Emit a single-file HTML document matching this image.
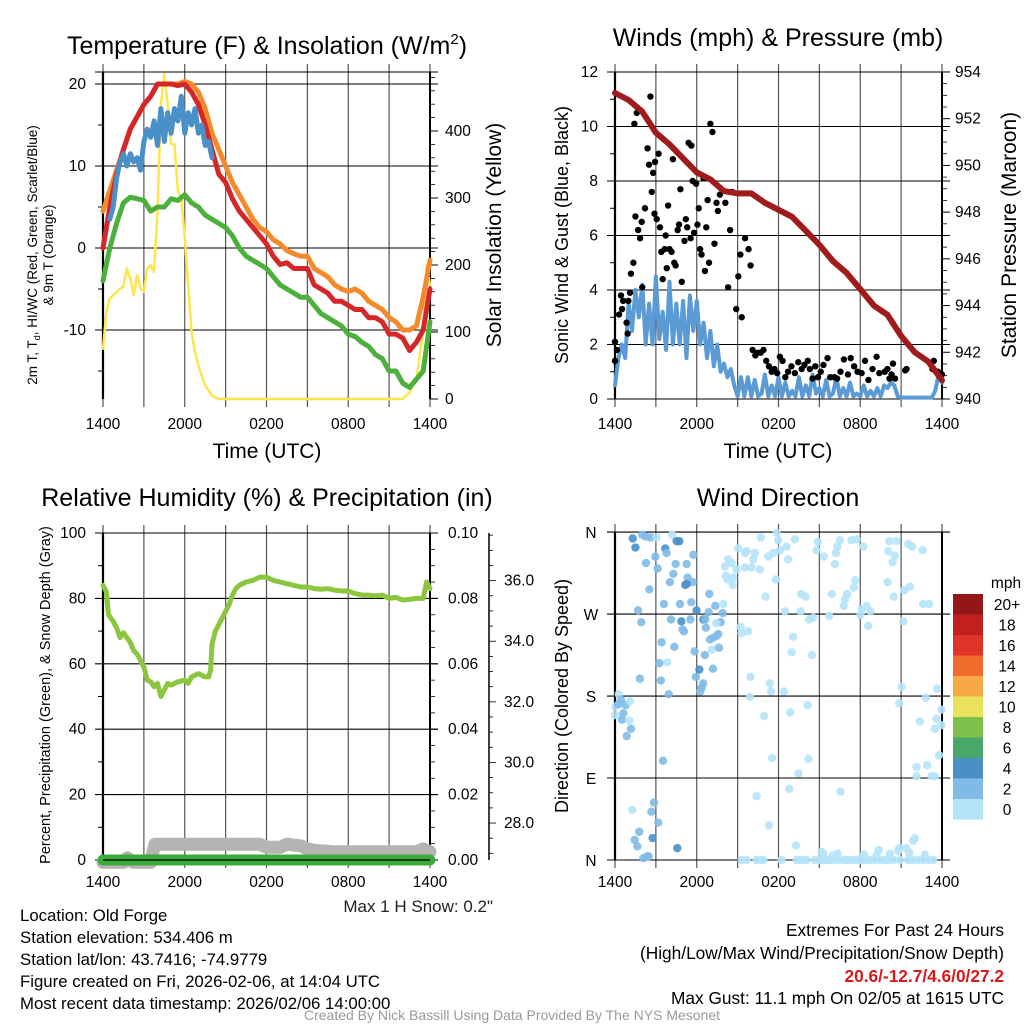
<!DOCTYPE html>
<html><head><meta charset="utf-8"><style>
html,body{margin:0;padding:0;background:#fff;}
svg{display:block;font-family:"Liberation Sans",Arial,sans-serif;}
</style></head><body>
<svg id="s" width="1024" height="1024" viewBox="0 0 1024 1024" xmlns="http://www.w3.org/2000/svg">
<rect width="1024" height="1024" fill="#fff"/>
<g font-size="25" text-anchor="middle" fill="#000">
<text x="267" y="54">Temperature (F) &amp; Insolation (W/m<tspan font-size="15" dy="-10">2</tspan><tspan dy="10">)</tspan></text>
<text x="778" y="46">Winds (mph) &amp; Pressure (mb)</text>
<text x="267" y="506">Relative Humidity (%) &amp; Precipitation (in)</text>
<text x="778" y="506">Wind Direction</text>
</g>
<g font-size="21" text-anchor="middle">
<text x="267" y="458">Time (UTC)</text>
<text x="778" y="458">Time (UTC)</text>
<text transform="translate(501,235) rotate(-90)">Solar Insolation (Yellow)</text>
<text transform="translate(1016,235) rotate(-90)">Station Pressure (Maroon)</text>
</g>
<g font-size="13.5" text-anchor="middle">
<text transform="translate(37,255) rotate(-90)">2m T, T<tspan font-size="9" dy="3">d</tspan><tspan dy="-3">, HI/WC (Red, Green, Scarlet/Blue)</tspan></text>
<text transform="translate(53,255) rotate(-90)">&amp; 9m T (Orange)</text>
<text transform="translate(50,695) rotate(-90)" font-size="14.5">Percent, Precipitation (Green), &amp; Snow Depth (Gray)</text>
</g>
<g font-size="18" text-anchor="middle">
<text transform="translate(568,235) rotate(-90)">Sonic Wind &amp; Gust (Blue, Black)</text>
<text transform="translate(568,696) rotate(-90)">Direction (Colored By Speed)</text>
</g>
<g font-size="16.8">
<text x="20" y="921">Location: Old Forge</text>
<text x="20" y="943">Station elevation: 534.406 m</text>
<text x="20" y="965">Station lat/lon: 43.7416; -74.9779</text>
<text x="20" y="987">Figure created on Fri, 2026-02-06, at 14:04 UTC</text>
<text x="20" y="1009">Most recent data timestamp: 2026/02/06 14:00:00</text>
<text x="493" y="912" text-anchor="end" fill="#222" font-size="17">Max 1 H Snow: 0.2"</text>
<g text-anchor="end" font-size="17.3">
<text x="1004" y="936">Extremes For Past 24 Hours</text>
<text x="1004" y="959">(High/Low/Max Wind/Precipitation/Snow Depth)</text>
<text x="1004" y="982" fill="#d7191c" font-weight="bold">20.6/-12.7/4.6/0/27.2</text>
<text x="1004" y="1004">Max Gust: 11.1 mph On 02/05 at 1615 UTC</text>
</g>
</g>
<text x="512" y="1020" font-size="14" fill="#999" text-anchor="middle">Created By Nick Bassill Using Data Provided By The NYS Mesonet</text>
<g id="layer"></g>
</svg>
<script>
// ---------- data ----------
const xTickLabels = ["1400","2000","0200","0800","1400"];
const tempRed = [0,5,9,12,14.5,16,17.5,18.5,20,20,20,19.8,20,19,17.5,15,12,9,8,6,4.5,3.5,2.5,1.5,0.5,-1,-2,-1.8,-2.5,-2.5,-2.5,-4.5,-5,-5.5,-6.5,-6.5,-7,-7.5,-7.5,-8.5,-8.5,-9,-10.5,-10.5,-11,-12.5,-11.5,-10,-5];
const tempOrange = [4.5,7,9.5,12,14.5,16,17.5,18.5,20,20,20,20,20.3,20,19,17,14,12,10,8,6.5,5,3.5,2.5,2,1,0.5,-0.3,-0.7,-1,-1,-2.5,-3,-3.5,-4.5,-5,-5.3,-5,-5.5,-6.5,-7,-7.5,-8.5,-9,-10,-10,-9.5,-6,-1.5];
const dewGreen = [-4,0,3,5.5,6.2,6,5.8,4.5,5,5,6,5.8,6.5,5.5,5,4,3.5,3,2.5,1.5,0,-1,-1.5,-2,-2.5,-3.5,-4.5,-5,-5.5,-6,-6,-7,-8,-8.5,-9,-9.5,-10.5,-10.8,-11.5,-12,-13,-13.5,-15,-15,-16.5,-17,-16,-15,-9];
const wcStart = 0.5;
const windChill = [3.5,5,8.5,10.5,11.5,10,11.5,10.5,11,9.5,13,14.5,13.5,15.5,12.5,17,13,16.5,14,17,15.5,18.5,14,16.5,15,17,14,15,12.5,13,11];
const solarHours = [0,0.25,0.5,1,1.5,1.75,2,2.25,2.5,2.75,3,3.25,3.5,3.75,4,4.25,4.5,4.75,5,5.25,5.5,5.75,6,6.25,6.5,6.75,7,7.5,8,8.5,22,22.5,23,23.5,23.75,24];
const solarValues = [75,130,150,160,168,195,180,155,185,165,160,195,200,190,280,440,485,440,380,380,310,300,240,170,100,70,50,20,5,0,0,10,30,100,200,170];
const pressure = [953.1,952.8,952.3,951.4,950.9,950.3,949.7,949.4,948.9,948.8,948.8,948.4,948.1,947.8,947.2,946.6,945.9,945.4,944.7,944.0,943.6,942.7,942.0,941.6,940.8];
const windSpeed = [0.5,1.5,2,1.5,3.5,2.5,4,3,4.2,2,3.5,2,4.5,2.2,3.2,1.8,4.3,2,3.5,2,3.6,1.5,3.8,2.5,3.6,2,2.8,1.5,2.5,1.2,2,1,1.3,0.8,1.1,0.5,0.1,
0.8,0.1,0.8,0.1,0.7,0.1,0.2,0.9,0.1,0.5,0.1,0.8,0.1,0.6,0.1,0.3,0.1,0.8,0.1,0.5,0.1,0.9,0.2,0.4,0.1,0.7,0.1,0.2,0.8,0.1,0.4,0.1,0.6,0.1,0.2,0.1,0.5,0.1,0.3,0.1,0.4,0.1,0.5,0.4,0.6,0.5,0.1,
0.05,0.05,0.05,0.05,0.05,0.05,0.05,0.05,0.05,0.05,0.3,0.9,0.6];
const gustHours = [0,0,0.15,0.3,0.44,0.52,0.6,0.85,0.93,0.98,1.1,1.17,1.35,1.42,1.5,1.6,1.7,1.84,1.96,2.0,2.2,2.39,2.5,2.6,2.7,2.8,2.9,2.94,3.06,3.2,3.3,3.4,3.5,3.65,3.72,3.8,3.9,4.0,4.15,4.25,4.35,4.45,4.6,4.7,4.8,4.9,5.1,5.2,5.3,5.4,5.55,5.6,5.7,5.8,5.95,6.05,6.15,6.25,6.35,6.5,6.6,6.7,6.8,6.9,7.0,7.15,7.3,7.45,7.55,7.7,8.1,8.3,8.45,8.6,8.9,9.05,9.2,9.3,9.55,9.8,9.95,10.1,10.3,10.5,10.7,10.9,11.1,11.3,11.5,11.7,11.9,12.1,12.3,12.5,12.7,12.95,13.2,13.45,13.7,13.9,14.15,14.3,14.5,14.7,14.9,15.1,15.3,15.6,15.8,16.1,16.3,16.55,16.8,17.1,17.3,17.55,17.8,18.1,18.35,18.6,18.9,19.2,19.4,19.8,20.0,20.15,20.3,20.4,20.55,21.3,21.4,23.3,23.4,23.7,24];
const gustValues = [2.1,1.4,1.8,3.1,3.8,3.3,3.6,2.8,2.4,3.6,3.9,4.6,5,10.1,6.7,10.5,6.2,5.9,6.5,4.1,7.0,9.2,8.6,11.1,7.6,8.3,6.8,8.7,6.6,9.0,6.3,5.4,4.4,5.5,6.0,4.8,7.1,5.5,5.4,8.8,5.0,4.9,6.2,6.4,7.7,4.3,5.8,6.6,6.3,9.4,5.9,9.3,8.0,6.1,7.9,6.4,7.0,5.5,5.3,8.1,4.7,6.3,7.3,5.0,10.1,9.8,5.7,7.2,6.9,7.5,7.2,4.1,6.2,7.6,3.3,4.5,5.3,3.0,5.9,5.5,4.9,1.8,1.6,1.7,1.7,1.8,1.4,1.2,1.0,1.1,0.95,1.55,1.4,0.8,1.0,1.2,0.95,1.35,1.1,1.25,1.4,1.1,0.75,1.2,0.8,1.0,1.25,1.5,0.8,0.8,0.75,1.0,1.45,0.9,1.5,1.2,1.0,0.95,1.4,0.7,1.1,1.55,0.95,1.0,1.1,0.75,0.9,1.3,0.75,1.05,1.1,1.1,1.4,1.0,0.9,1.1,0.95,1.25,1.35,2.1,1.5,1.3,0.25,1.0,0.45,1.65,1.3,1.65];
const rhHours = [0,0.25,0.4,0.75,1,1.25,1.5,1.75,2,2.25,2.5,2.75,3,3.25,3.5,3.75,4,4.25,4.5,4.75,5,5.5,6,6.25,6.5,7,7.5,7.75,7.9,8,8.25,8.75,9.25,9.5,9.75,10,10.5,11,11.5,12,12.5,13,13.5,14,14.5,15,15.5,16,16.5,17,17.5,18,18.5,19,19.5,20,20.5,21,21.5,22,22.5,23,23.5,23.75,24];
const rhValues = [84,82,75,73,71,68,69.5,68,66.5,64,63,61,59,55,54.5,53,54,50,52,54,53.5,54.5,55,54,56,57,56,56,58,66,70,74,78,81,83,84,85,85.5,86.5,86.5,85.5,85,84.5,84,83.5,83.5,83,82.8,83,82.5,82.3,82.2,81.5,81,81,80.8,81,80,80.3,79.5,79.7,80,80,85,83];
const precipValues = [0,0,0,0,0,0,0,0,0,0,0,0,0,0,0,0,0,0,0,0,0,0,0,0,0];
const snowHours = [0,1.5,1.8,2.2,3.5,3.8,11.5,12,13,13.5,14.5,15,15.5,17,23,23.5,24];
const snowValues = [26.7,26.7,26.85,26.7,26.7,27.3,27.3,27.2,27.2,27.3,27.25,27.15,27.1,27.05,27.05,27.15,27.05];
const dirHours = [1.3,1.5,2.0,2.25,2.62,3.06,2.27,2.52,2.96,3.13,3.69,3.79,4.2,4.52,4.72,4.45,5.26,4.28,4.03,5.33,5.75,5.7,5.16,5.26,3.59,4.77,5.6,6.92,5.99,1.69,1.93,4.11,4.87,5.53,6.48,6.63,6.87,7.36,7.9,7.95,7.75,7.43,6.67,4.96,5.06,6.97,7.21,7.46,7.58,3.42,4.35,7.11,7.63,5.84,6.6,3.25,3.84,6.19,7.19,5.94,3.37,1.83,6.48,6.36,6.26,3.94,
0.27,0.44,0.02,0.24,0.78,1.1,0.61,0,0.51,1.05,1.17,0.86,3.52,1.27,2.86,2.67,3.18,1.78,1.44,1.64,2.76,4.57,2.08,2.37,2.47,
10.71,11.86,11.98,13.2,11.25,11.61,12.1,12.59,12.71,11.81,11.05,9.05,9.54,9.66,10.27,10.15,10.02,10.64,9.54,8.31,8.07,8.14,8.26,8.68,8.63,8.56,8.92,9.29,9.22,9.78,9.95,9.9,10.95,11.37,11.44,12.4,12.86,13.06,12.96,14.47,14.25,14.55,13.67,13.99,13.62,12.47,14.13,11.54,14.2,13.47,12.79,10.39,11.3,13.28,14.89,14.79,15.33,16.14,16.21,16.33,16.5,17.36,17.73,18.22,17.63,17.53,17.04,16.87,16.8,15.92,15.72,18.02,18.09,18.46,18.75,18.58,16.55,20,20.12,20.05,20.66,20.54,20.37,20.46,21.22,21.64,21.15,21.52,21.81,22.57,22.62,23.06,21.03,20.86,22.81,22.37,23.64,23.96,23.47,23.59,23.79,22.13,22.91,21.88,22,21.39,21.59,22.13,23.23,23.47,23.96,
9.29,9.66,10.39,10.76,10.88,12.22,13.33,13.57,13.81,14.06,14.67,15.04,15.28,15.53,15.77,16.01,16.38,16.75,16.99,17.24,17.48,17.73,18.09,18.34,18.7,19.07,19.44,19.8,20.05,20.42,20.9,21.52,21.88,22.25,22.62,22.98,23.35,
15.16,15.28,15.97,16.33,18.26,19.36,19.19,20.17,20.78,20.86,22.74];
const dirDegrees = [353,343,357,355,354,354,326,297,333,320,342,337,357,350,350,325,325,314,305,310,335,305,302,303,281,281,283,292,274,274,261,264,262,264,264,264,272,279,271,281,261,260,255,253,251,242,244,246,248,239,234,231,233,229,225,216,217,209,210,201,197,199,194,189,185,182,
182,176,168,171,170,174,161,159,154,153,144,136,109,55,63,53,41,31,22,15,24,13,2,4,4,
354,359,351,352,333,337,340,344,330,308,289,342,337,339,337,330,321,319,321,330,322,312,308,310,302,326,319,249,256,251,201,179,158,194,185,185,162,245,228,225,264,266,292,289,273,273,170,112,111,95,78,70,38,16,349,340,333,325,337,344,351,351,352,344,307,299,292,286,279,292,268,269,275,279,273,257,75,305,350,339,350,334,327,289,296,300,262,347,344,340,281,281,190,172,178,152,188,165,144,155,115,102,104,21,24,13,8,92,92,92,148,
0,0,0,0,0,0,0,0,0,0,0,0,0,0,0,0,0,0,0,0,0,0,0,0,0,0,0,0,0,0,0,0,0,0,0,0,0,
9,7,5,7,6,11,5,7,10,13,6];
const dirSpeeds = [4.5,4.5,3,3,3,1.5,3,3,3,3,4.5,3,1.5,4.5,4.5,3,3,3,3,3,3,3,4.5,4.5,3,3,3,3,4.5,3,3,3,4.5,3,4.5,3,3,3,3,1.5,3,1.5,3,3,3,3,3,3,3,3,3,1.5,3,3,3,3,1.5,4.5,3,3,3,3,3,3,3,3,
1.5,3,1.5,3,3,1.5,3,1.5,3,1.5,3,3,3,1.5,3,3,3,3,3,3,4.5,4.5,3,3,3];
const legendLabels = ["20+","18","16","14","12","10","8","6","4","2","0"];
const legendColors = ["#931717","#c1201f","#df3327","#f06a2c","#f7a945","#e9e25a","#7fc04a","#4aa76a","#4a90c6","#7fbbe5","#b5e3f8"];

// ---------- helpers ----------
const NS="http://www.w3.org/2000/svg";
const layer=document.getElementById('layer');
function mk(tag,name,attrs,parent){
  const el=document.createElementNS(NS,tag);
  
  
  for(const k in attrs) el.setAttribute(k,attrs[k]);
  (parent||layer).appendChild(el);
  return el;
}
function line(name,x1,y1,x2,y2,c,w){return mk('line',name,{x1:x1,y1:y1,x2:x2,y2:y2,stroke:c||'#000','stroke-width':w||1});}
function txt(name,x,y,s,anchor,size){const t=mk('text',name,{x:x,y:y,'text-anchor':anchor||'middle','font-size':size||15.5});t.textContent=s;return t;}
function poly(name,xs,ys,color,w){
  let d='';for(let i=0;i<xs.length;i++) d+=(i?'L':'M')+xs[i].toFixed(1)+' '+ys[i].toFixed(1);
  return mk('path',name,{d:d,fill:'none',stroke:color,'stroke-width':w,'stroke-linejoin':'round','stroke-linecap':'round'});
}
const step=(arr,start,dur)=>arr.map((_,i)=>start+i*dur/(arr.length-1));

function frame(prefix,L,R,T,B,hLines,xT){
  for(let k=0;k<=8;k++){const x=L+k*(R-L)/8;line(prefix+'-vgrid',x,T-8,x,B+8,'#555',1.2);}
  hLines.forEach(y=>line(prefix+'-hgrid',L-8,y,R+8,y,'#000',1.1));
  line(prefix+'-left-axis',L,T,L,B,'#000',2.2);
  line(prefix+'-right-axis',R,T,R,B,'#000',2);
  if(xT) xTickLabels.forEach((s,i)=>txt(prefix+'-x-tick',L+i*(R-L)/4,xT,s));
}
const xA=h=>103+h*327/24, xB=h=>615+h*327/24;

// ---------- panel 1 ----------
const yT=v=>248-v*8.2, yS=v=>399-v*0.67;
frame('temp',103,430,72,399,[72,yT(20),yT(10),yT(0),yT(-10)],429);
[20,10,0,-10].forEach(v=>txt('temp-y-tick',86,yT(v)+5,String(v),'end'));
[15,5,-5,-15].forEach(v=>line('temp-minor-tick',98,yT(v),103,yT(v)));
for(let v=0;v<=480;v+=20){line('solar-tick',430,yS(v),v%100?435:438,yS(v),'#000',v%100?0.8:1);}
[0,100,200,300,400].forEach(v=>txt('solar-y-tick',445,yS(v)+5,String(v),'start'));
const hh=step(tempRed,0,24);
poly('solar-line',solarHours.map(xA),solarValues.map(yS),'#fde64b',2.5);
poly('orange-9m-temp',hh.map(xA),tempOrange.map(yT),'#f58a2d',5);
poly('green-dewpoint',hh.map(xA),dewGreen.map(yT),'#4daf3c',5);
poly('red-2m-temp',hh.map(xA),tempRed.map(yT),'#d62728',5);
poly('blue-windchill',step(windChill,wcStart,8-wcStart).map(xA),windChill.map(yT),'#4a90c8',5);

// ---------- panel 2 ----------
const yW=v=>399-v*27.25, yP=v=>399-(v-940)*23.36;
frame('wind',615,942,72,399,[0,2,4,6,8,10,12].map(yW),429);
[0,2,4,6,8,10,12].forEach(v=>txt('wind-y-tick',598,yW(v)+5,String(v),'end'));
[1,3,5,7,9,11].forEach(v=>line('wind-minor-tick',610,yW(v),615,yW(v)));
for(let v=940;v<=954;v+=0.5){line('pressure-tick',942,yP(v),v%2?947:950,yP(v),'#000',v%2?0.8:1);}
[940,942,944,946,948,950,952,954].forEach(v=>txt('pressure-y-tick',955,yP(v)+5,String(v),'start'));
poly('wind-speed-line',step(windSpeed,0,24).map(xB),windSpeed.map(yW),'#5a9bd5',4);
gustHours.forEach((h,i)=>{mk('circle','gust-point',{cx:xB(h),cy:yW(gustValues[i]),r:3.2,fill:'#000'});});
poly('pressure-line',step(pressure,0,24).map(xB),pressure.map(yP),'#a01c1c',6);

// ---------- panel 3 ----------
const yR=v=>860-v*3.27, yPr=v=>860-v*3270, ySn=v=>860-(v-26.78)*30.3;
frame('rh',103,430,533,860,[0,20,40,60,80,100].map(yR),887);
[0,20,40,60,80,100].forEach(v=>txt('rh-y-tick',86,yR(v)+5,String(v),'end'));
[10,30,50,70,90].forEach(v=>line('rh-minor-tick',98,yR(v),103,yR(v)));
for(let k=0;k<=20;k++){const v=k*0.005;line('precip-tick',430,yPr(v),k%4?435:438,yPr(v),'#000',k%4?0.8:1);}
[0,0.02,0.04,0.06,0.08,0.10].forEach(v=>txt('precip-y-tick',448,yPr(v)+5,v.toFixed(2),'start'));
line('snow-axis',489,533,489,860,'#000',1.5);
for(let v=27;v<=37.5;v+=0.5){line('snow-tick',489,ySn(v),v%2?493:496,ySn(v),'#000',0.8);}
[28,30,32,34,36].forEach(v=>txt('snow-y-tick',504,ySn(v)+5,v.toFixed(1),'start'));
poly('snow-depth-line',snowHours.map(xA),snowValues.map(ySn),'#b4b4b4',13);
poly('precip-line',step(precipValues,0,24).map(xA),precipValues.map(yPr),'#3aab3a',11);
line('rh-zero-line',103,860,430,860,'#000',1.2);
poly('rh-line',rhHours.map(xA),rhValues.map(yR),'#8cc63f',5);

// ---------- panel 4 ----------
const yD=d=>860-d*0.911;
frame('dir',615,942,532,860,[0,90,180,270,360].map(yD),887);
["N","E","S","W","N"].forEach((s,i)=>txt('dir-y-tick',591,yD(i*90)+6,s));
function spdColor(s){const idx=Math.min(10,Math.floor(s/2));return legendColors[10-idx];}
dirHours.forEach((h,i)=>{const s=i<dirSpeeds.length?dirSpeeds[i]:1;
  mk('circle','direction-point',{cx:xB(h),cy:yD(dirDegrees[i]),r:4.2,fill:spdColor(s),'fill-opacity':0.9});});
txt('legend-title',1006,588,'mph','middle',15.5);
legendColors.forEach((c,i)=>{const y=594+i*20.5;
  mk('rect','legend-swatch',{x:953,y:y,width:30,height:20.6,fill:c});
  txt('legend-label',1007,y+16,legendLabels[i],'middle',15.5);});
</script>
</body></html>
